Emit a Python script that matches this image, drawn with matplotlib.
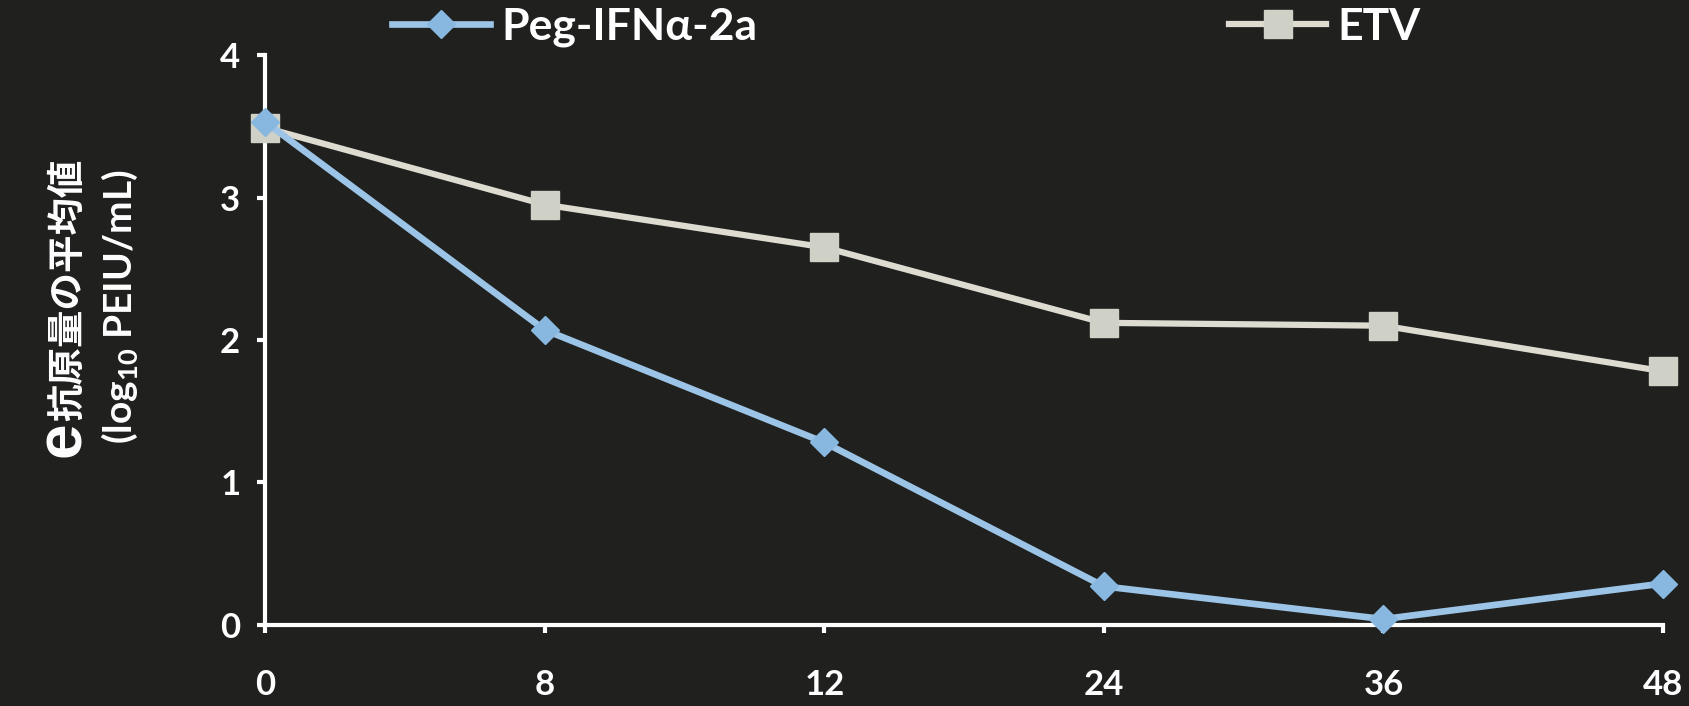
import matplotlib
matplotlib.use("Agg")
import matplotlib.pyplot as plt
import numpy as np

# weeks of treatment (shown as evenly spaced categories)
weeks = ["0", "8", "12", "24", "36", "48"]
# mean HBeAg level, log10 PEIU/mL
peg_ifn = [3.53, 2.07, 1.28, 0.27, 0.04, 0.29]
etv = [3.49, 2.95, 2.65, 2.12, 2.10, 1.78]

BG = "#20211f"
FG = "#ffffff"
PEG_LINE = "#9cc4e6"
PEG_MARK = "#88b7e0"
ETV_LINE = "#dedcd0"
ETV_MARK = "#cfd0c6"

plt.rcParams["font.family"] = ["Lato", "DejaVu Sans"]
plt.rcParams["mathtext.default"] = "regular"

fig = plt.figure(figsize=(16.9, 7.06), dpi=100, facecolor=BG)
ax = fig.add_axes([0.157, 0.115, 0.827, 0.807], facecolor=BG)

x = np.arange(len(weeks))
l_peg, = ax.plot(x, peg_ifn, color=PEG_LINE, lw=4.8, marker="D", ms=14,
                 mfc=PEG_MARK, mec=PEG_MARK, zorder=3, clip_on=False)
l_etv, = ax.plot(x, etv, color=ETV_LINE, lw=4.5, marker="s", ms=20,
                 mfc=ETV_MARK, mec=ETV_MARK, zorder=2, clip_on=False)

ax.set_xlim(0, len(weeks) - 1)
ax.set_ylim(0, 4)
ax.set_xticks(x)
ax.set_xticklabels(weeks)
ax.set_yticks([0, 1, 2, 3, 4])

for side in ["top", "right"]:
    ax.spines[side].set_visible(False)
for side in ["left", "bottom"]:
    ax.spines[side].set_color(FG)
    ax.spines[side].set_linewidth(3)
    ax.spines[side].set_zorder(1)

ax.tick_params(axis="both", colors=FG, width=3, length=6, labelsize=25)
ax.tick_params(axis="x", pad=26)
ax.tick_params(axis="y", pad=12)
for lab in ax.get_xticklabels() + ax.get_yticklabels():
    lab.set_fontweight("bold")

# y-axis title, two rotated lines
fig.text(0.037, 0.352, "e", rotation=90, ha="center", va="bottom",
         fontsize=46, fontweight="bold", color=FG, family=["Liberation Sans"])
fig.text(0.040, 0.404, "抗原量の平均値", rotation=90, ha="center", va="bottom",
         fontsize=27, fontweight="bold", color=FG,
         family=["Noto Sans CJK JP", "DejaVu Sans"])
fig.text(0.071, 0.565, "(log$_{10}$ PEIU/mL)", rotation=90, ha="center",
         va="center", fontsize=28, fontweight="bold", color=FG)

# legend entries, placed separately across the top
leg_kw = dict(frameon=False, handlelength=2.2, handletextpad=0.25,
              borderpad=0, borderaxespad=0, labelcolor=FG,
              bbox_transform=fig.transFigure, loc="center left",
              prop={"weight": "bold", "size": 32})
leg1 = ax.legend([l_peg], ["Peg-IFNα-2a"], bbox_to_anchor=(0.232, 0.962), **leg_kw)
ax.add_artist(leg1)
ax.legend([l_etv], ["ETV"], bbox_to_anchor=(0.727, 0.962), **leg_kw)

fig.savefig("out.png", dpi=100, facecolor=BG)
